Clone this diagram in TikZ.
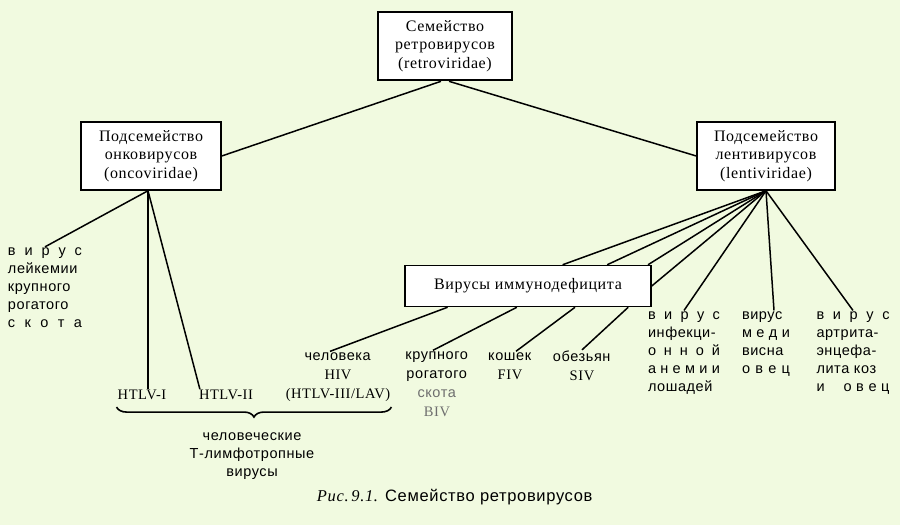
\documentclass[tikz,border=0pt]{standalone}
\usepackage{fontspec}
\setmainfont{Liberation Serif}[LetterSpace=4]
\setsansfont{Liberation Sans}[LetterSpace=4]
\usepackage[]{xcolor}
\usepackage{tikz}
\usetikzlibrary{calc,decorations.pathreplacing}

\definecolor{paper}{RGB}{241,250,224}
\definecolor{faded}{RGB}{110,110,110}
\newcommand{\spreadto}[2]{\makebox[#1][s]{#2}}

\begin{document}
\begin{tikzpicture}[x=1pt,y=-1pt,
    box/.style={draw,line width=1.5pt,fill=white,align=center,inner sep=2pt,
      font=\fontsize{16}{18.5}\selectfont},
    lbl/.style={align=left,inner sep=1pt,font=\sffamily\fontsize{14.5}{18}\selectfont},
    clbl/.style={align=center,inner sep=1pt,font=\fontsize{14.5}{19}\selectfont},
    link/.style={line width=1.5pt},
    curly/.style={decorate,decoration={brace,mirror,amplitude=10pt},line width=1.6pt}]
    \fill[paper] (0,0) rectangle (900,525);
    \useasboundingbox (0,0) rectangle (900,525);

    % boxes
    \node[box,line width=2.6pt,minimum width=134pt,minimum height=68pt] (retro) at (445,46)
        {Семейство\\ретровирусов\\(retroviridae)};
    \node[box,minimum width=140pt,minimum height=68pt] (onco) at (151,156)
        {Подсемейство\\онковирусов\\(oncoviridae)};
    \node[box,minimum width=138pt,minimum height=68pt] (lenti) at (766,156)
        {Подсемейство\\лентивирусов\\(lentiviridae)};
    \node[box,minimum width=246pt,minimum height=41pt] (immuno) at (528,286)
        {Вирусы иммунодефицита};

    % labels
    \node[lbl] (leuk) at (45,288) {\spreadto{74pt}{в и р у с}\\лейкемии\\крупного\\рогатого\\\spreadto{74pt}{с к о т а}};
    \node[clbl] (htlv1) at (142,395) {HTLV-I};
    \node[clbl] (htlv2) at (226,395) {HTLV-II};
    \node[clbl] (human) at (338,377) {\textsf{человека}\\HIV\\(HTLV-III/LAV)};
    \node[clbl] (bos) at (437,384) {\textsf{крупного}\\\textsf{рогатого}\\\textcolor{faded}{\textsf{скота}}\\\textcolor{faded}{BIV}};
    \node[clbl] (cat) at (510,366) {\textsf{кошек}\\FIV};
    \node[clbl] (monkey) at (582,366) {\textsf{обезьян}\\SIV};
    \node[lbl] (infect) at (684,353) {\spreadto{72pt}{в и р у с}\\инфекци-\\\spreadto{72pt}{о н н о й}\\\spreadto{72pt}{а н е м и и}\\лошадей};
    \node[lbl] (medi) at (766,344) {вирус\\\spreadto{48pt}{м е д и}\\висна\\\spreadto{48pt}{о в е ц}};
    \node[lbl] (arthr) at (853,353) {\spreadto{73pt}{в и р у с}\\артрита-\\энцефа-\\лита коз\\\spreadto{73pt}{и\hfill о в е ц}};
    \node[lbl,align=center] (tlymph) at (252,456) {человеческие\\Т-лимфотропные\\вирусы};
    \node[font=\fontsize{16.5}{18}\selectfont] (caption) at (455,497)
        {\textit{Рис.\,9.1.} \textsf{Семейство ретровирусов}};

    % roots of the fans
    \coordinate (oroot) at ([xshift=-3pt]onco.south);
    \coordinate (lroot) at (lenti.south);

    % connectors
    \draw[link] ([xshift=-4pt]retro.south) -- (onco.east);
    \draw[link] ([xshift=4pt]retro.south) -- (lenti.west);

    \draw[link] (oroot) -- (leuk.north);
    \draw[link] (oroot) -- (oroot |- htlv1.north);
    \draw[link] (oroot) -- ([xshift=2pt]htlv2.north west);

    \draw[link] (lroot) -- ($(immuno.north west)!0.64!(immuno.north east)$);
    \draw[link] (lroot) -- ($(immuno.north west)!0.82!(immuno.north east)$);
    \draw[link] (lroot) -- ($(immuno.north west)!0.985!(immuno.north east)$);
    \draw[link] (lroot) -- (immuno.east);
    \draw[link] (lroot) -- (infect.north);
    \draw[link] (lroot) -- ([xshift=8pt]medi.north);
    \draw[link] (lroot) -- (arthr.north);

    \draw[link] ($(immuno.south west)!0.175!(immuno.south east)$) -- ([xshift=-8pt]human.north);
    \draw[link] ($(immuno.south west)!0.455!(immuno.south east)$) -- ([xshift=-4pt]bos.north);
    \draw[link] ($(immuno.south west)!0.69!(immuno.south east)$) -- ([xshift=6pt]cat.north);
    \draw[link] ($(immuno.south west)!0.905!(immuno.south east)$) -- (monkey.north);

    \draw[curly] ([yshift=-6pt]htlv1.south west) -- ([yshift=-6pt]htlv1.south west -| human.east);
\end{tikzpicture}
\end{document}
